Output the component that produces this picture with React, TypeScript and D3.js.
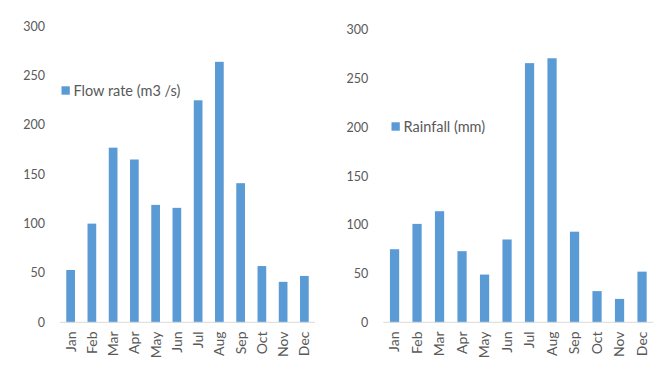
import React from 'react';
import * as d3 from 'd3';

const months = ['Jan', 'Feb', 'Mar', 'Apr', 'May', 'Jun', 'Jul', 'Aug', 'Sep', 'Oct', 'Nov', 'Dec'];
const flowRate = [53, 100, 177, 165, 119, 116, 225, 264, 141, 57, 41, 47];
const rainfall = [75, 101, 114, 73, 49, 85, 266, 271, 93, 32, 24, 52];
const yTicks = [0, 50, 100, 150, 200, 250, 300];

const BAR = '#5B9BD5';
const TEXT = '#595959';
const FONT = 'Lato, "Open Sans", sans-serif';

function Panel({ values, label, x0, x1, yTop, legendX, legendY }) {
  const x = d3.scaleBand().domain(months).range([x0, x1]).paddingInner(0.59).paddingOuter(0.295);
  const y = d3.scaleLinear().domain([0, 300]).range([322.3, yTop]);

  return (
    <g>
      {yTicks.map(t => (
        <text key={t} x={x0 - 15} y={y(t)} dy="0.35em" textAnchor="end" fontSize={12.5} fill={TEXT}>
          {t}
        </text>
      ))}
      {values.map((v, i) => (
        <rect key={months[i]} x={x(months[i])} y={y(v)} width={x.bandwidth()} height={y(0) - y(v)} fill={BAR} />
      ))}
      <line x1={x0} x2={x1} y1={y(0)} y2={y(0)} stroke="#D9D9D9" strokeWidth={1} />
      {months.map(m => {
        const cx = x(m) + x.bandwidth() / 2;
        return (
          <text key={m} transform={`translate(${cx},331.5) rotate(-90)`} dy="0.35em" textAnchor="end" fontSize={14} fill={TEXT}>
            {m}
          </text>
        );
      })}
      {/* legend */}
      <rect x={legendX} y={legendY - 4.2} width={8.3} height={8.4} fill={BAR} />
      <text x={legendX + 12} y={legendY} dy="0.35em" fontSize={14.5} fill={TEXT}>{label}</text>
    </g>
  );
}

export default function App() {
  return (
    <svg width={671} height={372} style={{ position: 'absolute', left: 0, top: 0, background: '#fff', fontFamily: FONT }}>
      <Panel values={flowRate} label="Flow rate (m3 /s)" x0={60} x1={315} yTop={26.3} legendX={61.5} legendY={90.5} />
      <Panel values={rainfall} label="Rainfall (mm)" x0={383.3} x1={653.3} yTop={30} legendX={391.5} legendY={126.5} />
    </svg>
  );
}
